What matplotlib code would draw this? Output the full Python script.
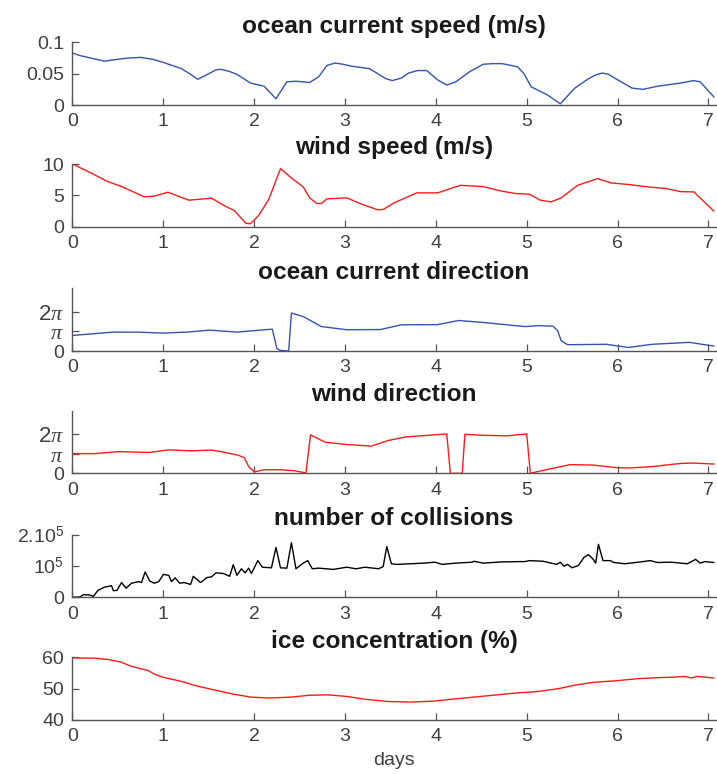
import numpy as np
import matplotlib
matplotlib.use("Agg")
import matplotlib.pyplot as plt

plt.rcParams["font.family"] = ["Liberation Sans", "DejaVu Sans"]
plt.rcParams["mathtext.fontset"] = "custom"
plt.rcParams["mathtext.rm"] = "Liberation Sans"
plt.rcParams["mathtext.it"] = "Liberation Serif:italic"

PI = np.pi

# ---- ocean current speed (m/s)
cur_speed_t = [0.0, 0.08, 0.2, 0.35, 0.5, 0.62, 0.75, 0.88, 1.0, 1.2, 1.3, 1.38, 1.5, 1.58,
               1.63, 1.72, 1.81, 1.96, 2.11, 2.24, 2.36, 2.46, 2.61, 2.71, 2.8, 2.89, 2.98,
               3.07, 3.27, 3.45, 3.52, 3.62, 3.7, 3.80, 3.9, 4.02, 4.12, 4.22, 4.37, 4.52,
               4.62, 4.73, 4.9, 4.97, 5.05, 5.23, 5.37, 5.53, 5.68, 5.76, 5.83, 5.9, 5.98,
               6.16, 6.28, 6.44, 6.69, 6.84, 6.91, 7.06]
cur_speed = [0.083, 0.079, 0.075, 0.070, 0.073, 0.075, 0.076, 0.073, 0.068, 0.058, 0.049,
             0.041, 0.050, 0.056, 0.057, 0.054, 0.049, 0.035, 0.030, 0.010, 0.037, 0.038,
             0.036, 0.045, 0.063, 0.067, 0.065, 0.062, 0.058, 0.042, 0.039, 0.043, 0.051,
             0.055, 0.055, 0.040, 0.032, 0.037, 0.053, 0.065, 0.066, 0.066, 0.061, 0.050,
             0.029, 0.016, 0.002, 0.027, 0.042, 0.048, 0.051, 0.049, 0.042, 0.027, 0.025,
             0.030, 0.035, 0.039, 0.037, 0.013]

# ---- wind speed (m/s)
wind_speed_t = [0.0, 0.2, 0.38, 0.55, 0.79, 0.9, 1.05, 1.28, 1.53, 1.68, 1.78, 1.91, 1.96,
                2.05, 2.16, 2.29, 2.41, 2.54, 2.61, 2.69, 2.74, 2.80, 3.02, 3.19, 3.36, 3.42,
                3.54, 3.79, 4.02, 4.27, 4.52, 4.73, 4.88, 5.03, 5.15, 5.27, 5.38, 5.56, 5.78,
                5.93, 6.13, 6.33, 6.54, 6.69, 6.84, 7.06]
wind_speed = [10.0, 8.6, 7.25, 6.35, 4.76, 4.87, 5.5, 4.23, 4.55, 3.28, 2.6, 0.53, 0.48,
              1.8, 4.34, 9.26, 7.78, 6.35, 4.6, 3.7, 3.7, 4.44, 4.6, 3.55, 2.7, 2.75, 3.8,
              5.4, 5.4, 6.6, 6.4, 5.66, 5.29, 5.18, 4.23, 3.97, 4.6, 6.6, 7.67, 6.98, 6.72,
              6.35, 6.08, 5.6, 5.55, 2.5]

# ---- ocean current direction (multiples of pi)
cur_dir_t = [0.0, 0.45, 0.7, 1.0, 1.26, 1.51, 1.81, 2.2, 2.25, 2.29, 2.38, 2.41, 2.54, 2.74,
             3.02, 3.39, 3.62, 4.02, 4.25, 4.52, 4.98, 5.13, 5.29, 5.34, 5.38, 5.45, 5.88,
             5.98, 6.12, 6.38, 6.79, 6.99, 7.06]
cur_dir = [0.79, 0.96, 0.96, 0.91, 0.96, 1.06, 0.96, 1.11, 0.12, 0.03, 0.0, 1.93, 1.75,
           1.24, 1.08, 1.09, 1.33, 1.34, 1.55, 1.45, 1.24, 1.29, 1.26, 1.04, 0.52, 0.32,
           0.34, 0.27, 0.18, 0.34, 0.44, 0.30, 0.25]

# ---- wind direction (multiples of pi)
wind_dir_t = [0.0, 0.25, 0.5, 0.85, 1.06, 1.31, 1.53, 1.66, 1.83, 1.89, 1.94, 2.0, 2.11,
              2.29, 2.44, 2.57, 2.62, 2.78, 3.02, 3.29, 3.47, 3.67, 3.92, 4.12, 4.16, 4.29,
              4.32, 4.52, 4.78, 5.0, 5.04, 5.23, 5.48, 5.73, 5.98, 6.13, 6.38, 6.69, 6.84,
              7.06]
wind_dir = [1.0, 1.0, 1.1, 1.06, 1.19, 1.14, 1.18, 1.08, 0.91, 0.79, 0.34, 0.07, 0.18,
            0.18, 0.13, 0.02, 1.95, 1.58, 1.46, 1.38, 1.66, 1.85, 1.93, 2.0, 0.0, 0.0,
            1.98, 1.93, 1.9, 2.0, 0.0, 0.2, 0.44, 0.42, 0.29, 0.27, 0.34, 0.5, 0.52, 0.47]

# ---- number of collisions (x 1e5)
coll_t = [0.0, 0.08, 0.12, 0.18, 0.23, 0.28, 0.35, 0.43, 0.45, 0.49, 0.54, 0.59, 0.65,
          0.73, 0.76, 0.8, 0.85, 0.9, 0.95, 1.0, 1.06, 1.09, 1.13, 1.18, 1.23, 1.30, 1.33,
          1.41, 1.48, 1.53, 1.58, 1.66, 1.73, 1.77, 1.81, 1.86, 1.9, 1.94, 1.97, 2.04,
          2.09, 2.19, 2.24, 2.29, 2.36, 2.41, 2.46, 2.54, 2.59, 2.64, 2.71, 2.87, 3.02,
          3.12, 3.22, 3.37, 3.42, 3.46, 3.51, 3.57, 3.72, 3.87, 3.99, 4.07, 4.22, 4.4,
          4.42, 4.52, 4.73, 4.98, 5.03, 5.18, 5.33, 5.37, 5.41, 5.45, 5.5, 5.57, 5.63,
          5.68, 5.73, 5.76, 5.79, 5.84, 5.92, 5.96, 6.08, 6.23, 6.36, 6.44, 6.59, 6.77,
          6.86, 6.91, 6.96, 7.06]
coll = [0.0, 0.01, 0.08, 0.08, 0.03, 0.22, 0.32, 0.37, 0.21, 0.22, 0.47, 0.29, 0.45,
        0.5, 0.47, 0.81, 0.52, 0.45, 0.50, 0.73, 0.70, 0.5, 0.62, 0.45, 0.47, 0.41, 0.67,
        0.47, 0.63, 0.65, 0.78, 0.76, 0.67, 1.04, 0.70, 0.91, 0.78, 0.93, 0.76, 1.17,
        0.96, 0.94, 1.59, 0.94, 0.93, 1.74, 0.91, 1.09, 1.17, 0.91, 0.93, 0.89, 0.96,
        0.91, 0.96, 0.91, 0.98, 1.62, 1.07, 1.05, 1.07, 1.09, 1.12, 1.05, 1.09, 1.12,
        1.15, 1.09, 1.13, 1.14, 1.17, 1.15, 1.05, 1.12, 0.99, 1.05, 0.94, 1.02, 1.27,
        1.36, 1.22, 1.09, 1.69, 1.17, 1.17, 1.11, 1.07, 1.12, 1.17, 1.11, 1.12, 1.07,
        1.21, 1.09, 1.14, 1.11]

# ---- ice concentration (%)
ice_t = [0.0, 0.25, 0.4, 0.53, 0.65, 0.83, 0.9, 1.0, 1.2, 1.36, 1.56, 1.76, 1.96, 2.16,
         2.41, 2.61, 2.82, 3.02, 3.22, 3.47, 3.72, 3.97, 4.17, 4.42, 4.63, 4.88, 5.13,
         5.35, 5.53, 5.73, 5.98, 6.23, 6.44, 6.64, 6.74, 6.81, 6.88, 7.06]
ice = [59.8, 59.7, 59.25, 58.5, 57.1, 55.8, 54.65, 53.6, 52.3, 50.9, 49.6, 48.3, 47.3,
       47.0, 47.3, 47.9, 48.0, 47.5, 46.6, 45.9, 45.7, 46.0, 46.6, 47.3, 47.9, 48.6,
       49.1, 50.0, 51.1, 52.0, 52.5, 53.2, 53.5, 53.7, 53.9, 53.4, 53.9, 53.4]

BLUE = "#3553b0"
RED = "#ff1a1a"
AX_GREY = "#555555"
TXT_GREY = "#404040"

panels = [
    ("ocean current speed (m/s)", cur_speed_t, np.array(cur_speed), BLUE,
     (0, 0.1), [0, 0.05, 0.1], ["0", "0.05", "0.1"]),
    ("wind speed (m/s)", wind_speed_t, np.array(wind_speed), RED,
     (0, 10), [0, 5, 10], ["0", "5", "10"]),
    ("ocean current direction", cur_dir_t, np.array(cur_dir) * PI, BLUE,
     (0, 10), [0, PI, 2 * PI], ["0", r"$\pi$", r"2$\pi$"]),
    ("wind direction", wind_dir_t, np.array(wind_dir) * PI, RED,
     (0, 10), [0, PI, 2 * PI], ["0", r"$\pi$", r"2$\pi$"]),
    ("number of collisions", coll_t, np.array(coll) * 1e5, "black",
     (0, 2e5), [0, 1e5, 2e5], ["0", r"10$^5$", r"2.10$^5$"]),
    ("ice concentration (%)", ice_t, np.array(ice), RED,
     (40, 60), [40, 50, 60], ["40", "50", "60"]),
]

fig = plt.figure(figsize=(7.17, 7.74), dpi=100)
bottoms = [0.8643, 0.7071, 0.5465, 0.3885, 0.2283, 0.0698]
for (title, t, y, col, ylim, yt, ytl), b in zip(panels, bottoms):
    ax = fig.add_axes([0.1011, b, 0.897, 0.081])
    ax.plot(t, y, color=col, lw=1.0)
    ax.set_xlim(0, 7.08)
    ax.set_ylim(*ylim)
    ax.set_xticks(range(8))
    ax.set_yticks(yt)
    labels = ax.set_yticklabels(ytl, fontsize=14)
    # the pi labels read small next to plain digits, so bump them up a bit
    for lab in labels:
        if "pi" in lab.get_text():
            lab.set_fontsize(16)
    for s in ("top", "right"):
        ax.spines[s].set_visible(False)
    for s in ("left", "bottom"):
        ax.spines[s].set_color(AX_GREY)
        ax.spines[s].set_linewidth(1.0)
    ax.tick_params(direction="in", length=5, width=0.9, color=AX_GREY,
                   labelcolor=TXT_GREY, pad=6)
    ax.tick_params(axis="x", labelsize=14)
    ax.set_title(title, fontsize=17.6, fontweight="bold", color="#1a1a1a", pad=7)
    ax.patch.set_alpha(0)

ax.set_xlabel("days", fontsize=14, color=TXT_GREY, labelpad=5)

fig.savefig("out.png", dpi=100)
